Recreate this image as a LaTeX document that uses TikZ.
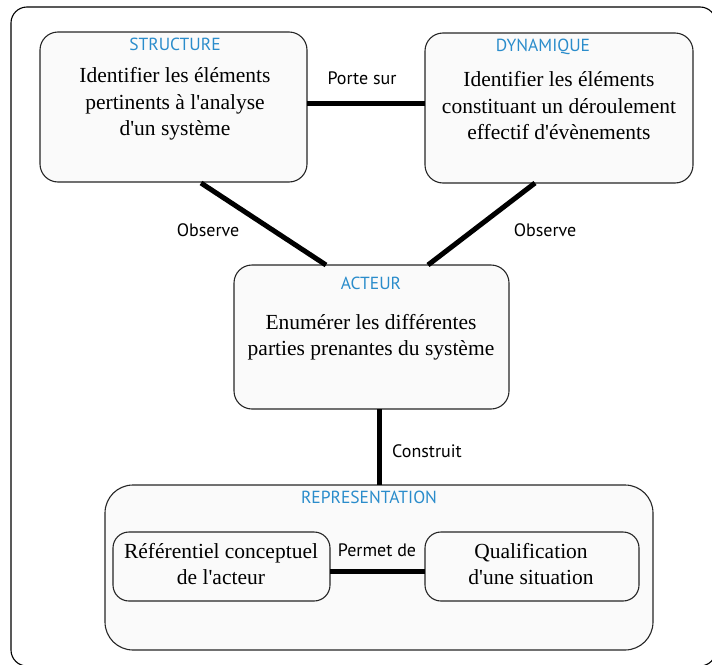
\documentclass[tikz,border=0pt]{standalone}
\usepackage{fontspec}
\setmainfont{Liberation Serif}
\newfontfamily\labfont{PT Sans}
\definecolor{ttl}{HTML}{2A8CCB}
\definecolor{boxfill}{HTML}{FAFAFA}
\newcommand{\aq}{\textquotesingle}
\begin{document}
\begin{tikzpicture}[x=1pt,y=-1pt,
  box/.style={draw=black!85,line width=1.1pt,fill=boxfill,rounded corners=18pt},
  ttlstyle/.style={text=ttl,font=\labfont\fontsize{17.5}{20}\selectfont,inner sep=0pt},
  body/.style={align=center,font=\fontsize{21.5}{26.5}\selectfont,inner sep=0pt},
  lab/.style={font=\labfont\fontsize{18}{20}\selectfont,inner sep=0pt},
  link/.style={line width=5pt}]
\useasboundingbox (0,0) rectangle (712,664);
\begin{scope}
\clip (0,0) rectangle (712,664);
\draw[line width=1.1pt,rounded corners=16pt] (11,7) rectangle (716,666);
\end{scope}
% boxes
\draw[box] (40,32) rectangle (307,182);
\draw[box] (425,33) rectangle (693,183);
\draw[box] (234,265) rectangle (509,409);
\draw[box,rounded corners=28pt] (105,485) rectangle (653,650);
\draw[box,rounded corners=16pt] (113,532) rectangle (330,601);
\draw[box,rounded corners=16pt] (425,532) rectangle (639,601);
% titles
\node[ttlstyle] (tS) at (175,44) {STRUCTURE};
\node[ttlstyle] (tD) at (543,47) {DYNAMIQUE};
\node[ttlstyle] (tA) at (371,283) {ACTEUR};
\node[ttlstyle] (tR) at (369,497) {REPRESENTATION};
% bodies
\node[body] (bS) at (175,104) {Identifier les éléments\\pertinents à l\aq analyse\\d\aq un système};
\node[body] (bD) at (559,106) {Identifier les éléments\\constituant un déroulement\\effectif d\aq évènements};
\node[body] (bA) at (371,337) {Enumérer les différentes\\parties prenantes du système};
\node[body] (bR) at (221,564) {Référentiel conceptuel\\de l\aq acteur};
\node[body] (bQ) at (531,564) {Qualification\\d\aq une situation};
% connectors
\coordinate (p1) at (307,103); \coordinate (p2) at (425,103);
\draw[link] (p1) -- (p2);
\coordinate (o1) at (201,183); \coordinate (o2) at (326,265);
\draw[link] (o1) -- (o2);
\coordinate (o3) at (535,183); \coordinate (o4) at (428,265);
\draw[link] (o3) -- (o4);
\coordinate (c1) at (379,409); \coordinate (c2) at (379,485);
\draw[link] (c1) -- (c2);
\coordinate (m1) at (330,571); \coordinate (m2) at (425,571);
\draw[link] (m1) -- (m2);
% labels
\node[lab] (lP) at (362,78) {Porte sur};
\node[lab] (lO1) at (208,230) {Observe};
\node[lab] (lO2) at (545,230) {Observe};
\node[lab] (lC) at (427,451) {Construit};
\node[lab] (lM) at (377,550) {Permet de};
\end{tikzpicture}
\end{document}
